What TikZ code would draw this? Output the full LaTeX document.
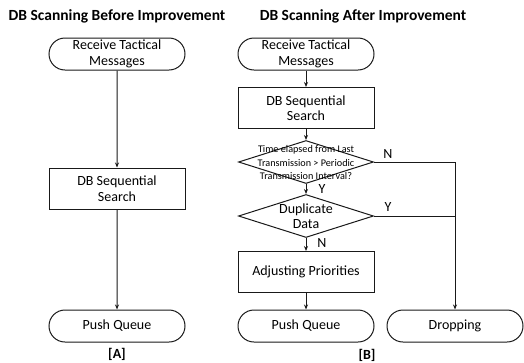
\documentclass[tikz,border=0pt]{standalone}
\usepackage{fontspec}
\setmainfont{Carlito}
\usetikzlibrary{shapes.misc,shapes.geometric,arrows.meta}
\begin{document}
\begin{tikzpicture}[x=1pt,y=-1pt,
  line/.style={draw=black!90,line width=1pt},
  flow/.style={line,-{Stealth[length=5pt,width=4pt]}},
  terminal/.style={rounded rectangle,line,minimum width=136pt,minimum height=32pt,inner sep=0pt,align=center,font=\fontsize{14}{15.5}\selectfont},
  process/.style={rectangle,line,minimum width=136pt,minimum height=41pt,inner sep=0pt,align=center,font=\fontsize{14}{15.5}\selectfont},
  decision/.style={diamond,line,minimum width=135pt,minimum height=43pt,inner sep=0pt,aspect=3.1},
  dtext/.style={align=center,inner sep=0pt},
  title/.style={font=\fontsize{15.5}{17}\selectfont\bfseries},
  tag/.style={font=\fontsize{14}{15}\selectfont},
  caption/.style={font=\fontsize{14}{15}\selectfont\bfseries}]
\useasboundingbox (0,0) rectangle (524,362);

% Titles
\node[title] (ta) at (117,16) {DB Scanning Before Improvement};
\node[title] (tb) at (363,16) {DB Scanning After Improvement};

% Before improvement
\node[terminal] (a1) at (117,54) {Receive Tactical\\Messages};
\node[process] (a2) at (117,188.5) {DB Sequential\\Search};
\node[terminal] (a3) at (117,326) {Push Queue};
\node[caption] (ca) at (117,354) {[A]};
\draw[flow] (a1) -- (a2);
\draw[flow] (a2) -- (a3);

% After improvement
\node[terminal] (b1) at (306,54) {Receive Tactical\\Messages};
\node[process] (b2) at (306,108) {DB Sequential\\Search};
\node[decision] (d1) at (306,162) {};
\node[dtext,font=\fontsize{10.2}{13.5}\selectfont] (d1t) at (306,162.5) {Time elapsed from Last\\Transmission > Periodic\\Transmission Interval?};
\node[decision] (d2) at (306,216) {};
\node[dtext,font=\fontsize{14}{15.5}\selectfont] (d2t) at (306,216) {Duplicate\\Data};
\node[process] (b3) at (306,272) {Adjusting Priorities};
\node[terminal] (b4) at (306,326) {Push Queue};
\node[terminal] (b5) at (455,326) {Dropping};
\node[caption] (cb) at (367,355) {[B]};

\coordinate (j1) at (455,162);
\coordinate (j2) at (455,216);

\draw[flow] (b1) -- (b2);
\draw[flow] (b2) -- (d1);
\draw[flow] (d1) -- (d2);
\draw[flow] (d2) -- (b3);
\draw[flow] (b3) -- (b4);
\draw[flow] (d1.east) -- (j1) -- (b5.north);
\draw[line] (d2.east) -- (j2);

% Branch labels
\node[tag] (l1) at (322,189) {Y};
\node[tag] (l2) at (322,243) {N};
\node[tag] (l3) at (388,154) {N};
\node[tag] (l4) at (388,207) {Y};
\end{tikzpicture}
\end{document}
